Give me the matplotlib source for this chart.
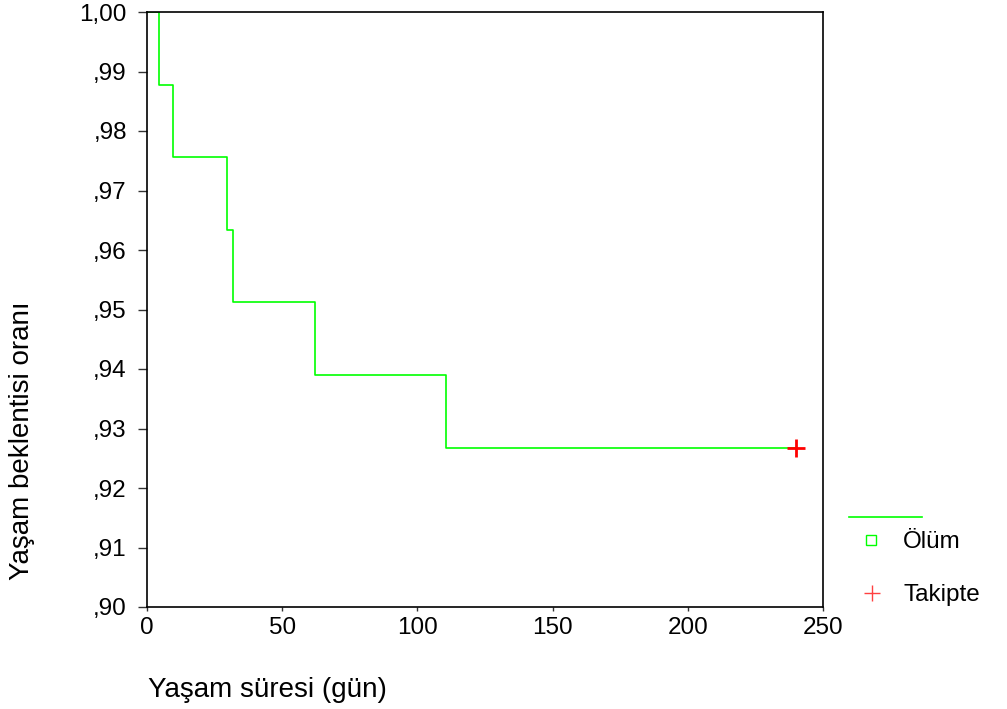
import matplotlib as mpl
mpl.use('Agg')
import matplotlib.pyplot as plt
from matplotlib.lines import Line2D
from matplotlib.ticker import FixedLocator

plt.rcParams['font.family'] = ['Liberation Sans', 'DejaVu Sans']

# Kaplan-Meier steps
event_days = [0, 4.3, 9.5, 29.6, 31.7, 62.3, 110.5, 240]
survival = [1.0, 0.9878, 0.9756, 0.9634, 0.9512, 0.9390, 0.9268, 0.9268]
censor_day = [240]
censor_surv = [0.9268]

yticks = [0.90, 0.91, 0.92, 0.93, 0.94, 0.95, 0.96, 0.97, 0.98, 0.99, 1.00]
ytick_labels = [',90', ',91', ',92', ',93', ',94', ',95', ',96', ',97', ',98', ',99', '1,00']
xticks = [0, 50, 100, 150, 200, 250]

W, H = 1007, 709
fig = plt.figure(figsize=(W / 100, H / 100), dpi=100)
ax = fig.add_axes([147 / W, 1 - 607 / H, (823 - 147) / W, (607 - 12) / H])

green = '#00ff00'
ax.step(event_days, survival, where='post', color=green, lw=1.2)
ax.plot(censor_day, censor_surv, '+', color='#ff0000', ms=13, mew=2)

ax.set_xlim(0, 250)
ax.set_ylim(0.90, 1.00)
ax.yaxis.set_major_locator(FixedLocator(yticks))
ax.set_yticklabels(ytick_labels)
ax.set_xticks(xticks)
ax.tick_params(labelsize=17.5, direction='out', width=1, colors='#333333', labelcolor='black')
ax.tick_params(axis='y', length=6.5, pad=8)
ax.tick_params(axis='x', length=3, pad=4)
for s in ax.spines.values():
    s.set_linewidth(1.2)

fig.text(22 / W, 1 - 441 / H, 'Yaşam beklentisi oranı', rotation=90, ha='center', va='center', fontsize=20)
fig.text(148 / W, 1 - 690 / H, 'Yaşam süresi (gün)', ha='left', va='center', fontsize=20)

# legend drawn by hand, as in the original
fig.add_artist(Line2D([849 / W, 922 / W], [1 - 517 / H] * 2, transform=fig.transFigure, color=green, lw=1.2))
fig.add_artist(Line2D([871 / W], [1 - 540 / H], transform=fig.transFigure, marker='s', ms=7,
                      mfc='none', mec=green, mew=1, ls='none'))
fig.add_artist(Line2D([872 / W], [1 - 593 / H], transform=fig.transFigure, marker='+', ms=12,
                      mec='#ff4040', mew=1, ls='none'))
fig.text(903 / W, 1 - 542 / H, 'Ölüm', ha='left', va='center', fontsize=17.5)
fig.text(903 / W, 1 - 595 / H, 'Takipte', ha='left', va='center', fontsize=17.5)

fig.savefig('out.png', dpi=100)
